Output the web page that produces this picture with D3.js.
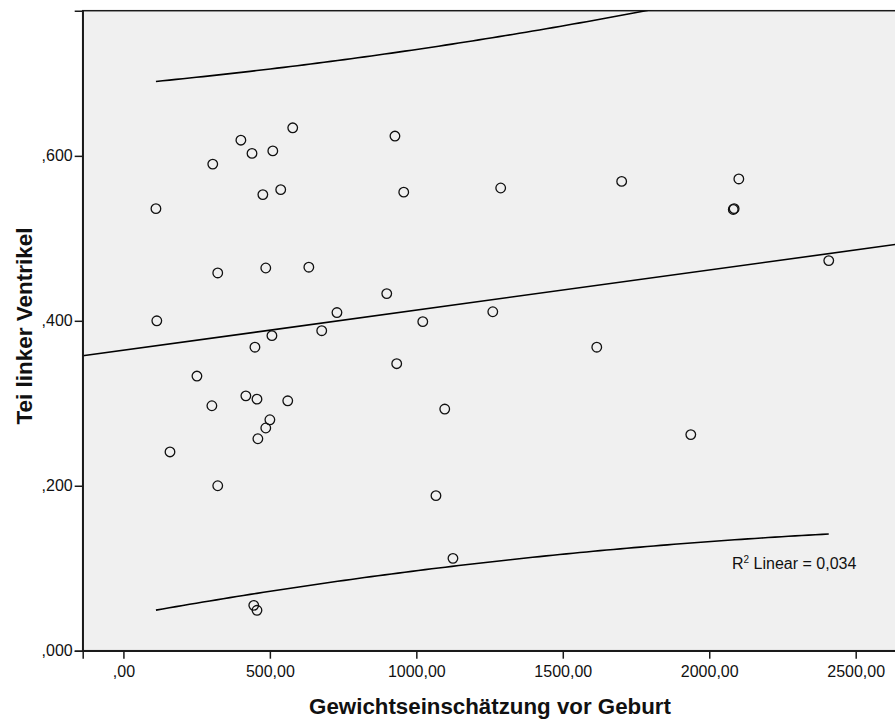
<!DOCTYPE html>
<html>
<head>
<meta charset="utf-8">
<script src="https://cdn.jsdelivr.net/npm/d3@7"></script>
<style>
  html, body { margin: 0; padding: 0; background: #ffffff; }
  svg { display: block; font-family: "Liberation Sans", Arial, sans-serif; }
</style>
</head>
<body>
<svg id="chart" width="895" height="722"></svg>
<script>
// Gewichtseinschätzung vor Geburt (g) per case
const weightEstimate = [
  111, 114, 159, 251, 302, 305, 322, 322, 401, 418,
  439, 449, 456, 459, 476, 486, 486, 500, 507, 510,
  537, 561, 578, 633, 677, 729, 899, 927, 933, 957,
  1022, 1097, 1067, 1125, 1261, 1288, 1616, 1701, 1937, 2082,
  2085, 2101, 2408, 445, 456
];
// Tei-Index des linken Ventrikels per case
const teiLeft = [
  0.536, 0.400, 0.241, 0.333, 0.297, 0.590, 0.458, 0.200, 0.619, 0.309,
  0.603, 0.368, 0.305, 0.257, 0.553, 0.270, 0.464, 0.280, 0.382, 0.606,
  0.559, 0.303, 0.634, 0.465, 0.388, 0.410, 0.433, 0.624, 0.348, 0.556,
  0.399, 0.293, 0.188, 0.112, 0.411, 0.561, 0.368, 0.569, 0.262, 0.535,
  0.536, 0.572, 0.473, 0.055, 0.049
];
const xTicks = [0, 500, 1000, 1500, 2000, 2500];
const yTicks = [0, 0.2, 0.4, 0.6];
const xTitle = "Gewichtseinschätzung vor Geburt";
const yTitle = "Tei linker Ventrikel";
const rSquaredLinear = 0.034;

const svg = d3.select("#chart");
const plot = { left: 82.7, top: 10.7, right: 897, bottom: 650.7 };

const x = d3.scaleLinear().domain([-139, 2641]).range([plot.left, plot.right]);
const y = d3.scaleLinear().domain([0, 0.776]).range([plot.bottom, plot.top]);

// German decimal style: ",600", "500,00"
const fmtX = v => (v === 0 ? ",00" : d3.format(".2f")(v).replace(".", ","));
const fmtY = v => d3.format(".3f")(v).replace(/^0/, "").replace(".", ",");

// plot background
svg.append("rect")
  .attr("x", plot.left).attr("y", plot.top)
  .attr("width", plot.right - plot.left).attr("height", plot.bottom - plot.top)
  .attr("fill", "#f0f0f0")
  .attr("stroke", "#1a1a1a").attr("stroke-width", 1.5);

svg.append("clipPath").attr("id", "plotClip")
  .append("rect")
  .attr("x", plot.left).attr("y", plot.top)
  .attr("width", plot.right - plot.left).attr("height", plot.bottom - plot.top);

// least squares fit with 95% prediction interval for single values
const pts = weightEstimate.map((w, i) => ({ x: w, y: teiLeft[i] }));
const n = pts.length;
const mx = d3.mean(pts, d => d.x), my = d3.mean(pts, d => d.y);
const sxx = d3.sum(pts, d => (d.x - mx) ** 2);
const sxy = d3.sum(pts, d => (d.x - mx) * (d.y - my));
const slope = sxy / sxx, intercept = my - slope * mx;
const sse = d3.sum(pts, d => (d.y - intercept - slope * d.x) ** 2);
const se = Math.sqrt(sse / (n - 2));
const tCrit = 2.017;
const fit = v => intercept + slope * v;
const half = v => tCrit * se * Math.sqrt(1 + 1 / n + (v - mx) ** 2 / sxx);

const g = svg.append("g").attr("clip-path", "url(#plotClip)");
const line = d3.line().x(d => x(d[0])).y(d => y(d[1]));

g.append("path")
  .datum(x.domain().map(v => [v, fit(v)]))
  .attr("d", line).attr("fill", "none")
  .attr("stroke", "#000").attr("stroke-width", 1.6);

const [xmin, xmax] = d3.extent(weightEstimate);
const xs = d3.range(0, 101).map(i => xmin + (xmax - xmin) * i / 100);
[1, -1].forEach(sign => {
  g.append("path")
    .datum(xs.map(v => [v, fit(v) + sign * half(v)]))
    .attr("d", line).attr("fill", "none")
    .attr("stroke", "#000").attr("stroke-width", 1.6);
});

// points
g.selectAll("circle.pt").data(pts).join("circle")
  .attr("class", "pt")
  .attr("cx", d => x(d.x)).attr("cy", d => y(d.y))
  .attr("r", 4.8)
  .attr("fill", "none").attr("stroke", "#111").attr("stroke-width", 1.3);

// axes
const xAxis = d3.axisBottom(x).tickValues(xTicks).tickFormat(fmtX).tickSize(8).tickPadding(7);
const gx = svg.append("g").attr("transform", `translate(0,${plot.bottom})`).call(xAxis);
const yAxis = d3.axisLeft(y).tickValues(yTicks).tickFormat(fmtY).tickSize(8).tickPadding(2);
const gy = svg.append("g").attr("transform", `translate(${plot.left},0)`).call(yAxis);
[gx, gy].forEach(a => {
  a.attr("font-size", null).attr("font-family", null);
  a.select(".domain").attr("stroke", "#1a1a1a").attr("stroke-width", 1.5);
  a.selectAll(".tick line").attr("stroke", "#1a1a1a").attr("stroke-width", 1.5);
  a.selectAll(".tick text").attr("fill", "#111")
    .style("font-family", "'Liberation Sans', Arial, sans-serif").style("font-size", "16px");
});

// axis titles
svg.append("text")
  .attr("x", 490).attr("y", 714)
  .attr("text-anchor", "middle")
  .style("font-size", "22.3px").style("font-weight", "bold").attr("fill", "#111")
  .text(xTitle);

svg.append("text")
  .attr("transform", `translate(32,326) rotate(-90)`)
  .attr("text-anchor", "middle")
  .style("font-size", "22.5px").style("font-weight", "bold").attr("fill", "#111")
  .text(yTitle);

// fit annotation
const ann = svg.append("text")
  .attr("x", 732).attr("y", 568.5)
  .style("font-size", "16px").attr("fill", "#111");
ann.append("tspan").text("R");
ann.append("tspan").attr("dy", -6).style("font-size", "10px").text("2");
ann.append("tspan").attr("dy", 6).text(" Linear = " + d3.format(".3f")(rSquaredLinear).replace(".", ","));
</script>
</body>
</html>
